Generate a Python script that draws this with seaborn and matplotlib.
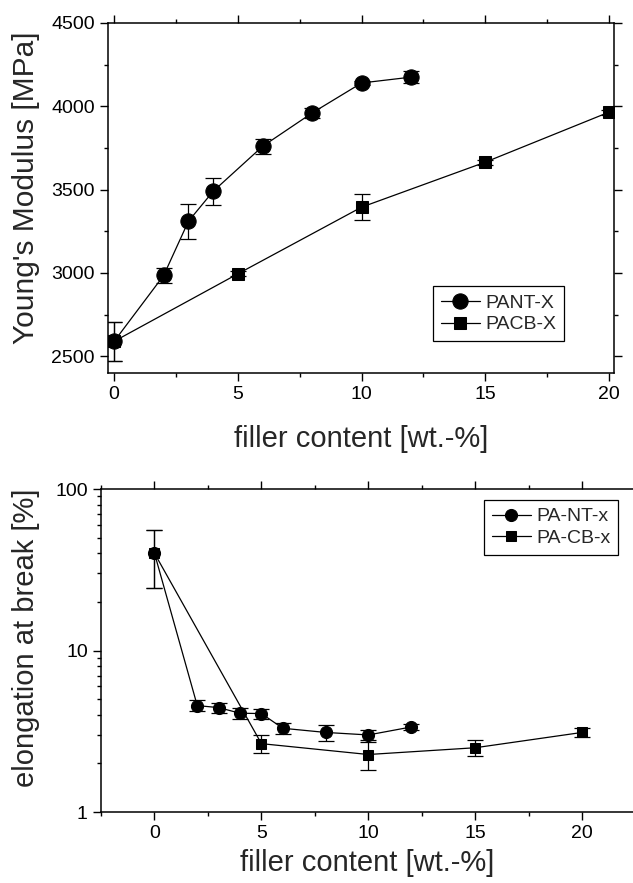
import matplotlib
matplotlib.use("Agg")
import matplotlib.pyplot as plt
import numpy as np
import pandas as pd
import seaborn as sns
from matplotlib.ticker import (MultipleLocator, FixedLocator, LogLocator,
                               NullFormatter)

# ---------------------------------------------------------------------------
# Data
# ---------------------------------------------------------------------------
# Young's modulus [MPa]
nt_x = [0, 2, 3, 4, 6, 8, 10, 12]
nt_E = [2590, 2985, 3310, 3490, 3760, 3960, 4140, 4175]
nt_E_err = [116, 44, 106, 81, 44, 28, 12, 38]

cb_x = [0, 5, 10, 15, 20]
cb_E = [2590, 2995, 3395, 3665, 3965]
cb_E_err = [116, 15, 78, 15, 15]

# elongation at break [%]
nt_x2 = [0, 2, 3, 4, 5, 6, 8, 10, 12]
nt_eps = [40, 4.56, 4.43, 4.09, 4.07, 3.30, 3.11, 3.00, 3.36]
nt_eps_err = [15.7, 0.35, 0.30, 0.31, 0.30, 0.25, 0.37, 0.22, 0.15]

cb_x2 = [0, 5, 10, 15, 20]
cb_eps = [40, 2.65, 2.27, 2.50, 3.11]
cb_eps_err = [15.7, 0.34, 0.46, 0.28, 0.19]

x_major = [0, 5, 10, 15, 20]
labels_top = ["PANT-X", "PACB-X"]
labels_bot = ["PA-NT-x", "PA-CB-x"]

# ---------------------------------------------------------------------------
# Style
# ---------------------------------------------------------------------------
sns.set_style("ticks")
plt.rcParams["font.family"] = ["Liberation Sans", "DejaVu Sans"]
plt.rcParams["axes.linewidth"] = 1.1

LW = 0.9
TICK_FS = 14
LEG_FS = 14
LABEL_FS = 21

fig = plt.figure(figsize=(6.33, 8.83), dpi=100)
ax1 = fig.add_axes([0.1706, 0.5776, 0.7994, 0.3964])
ax2 = fig.add_axes([0.1596, 0.0804, 0.929, 0.3658])


def draw(ax, x, y, err, marker, ms, label):
    df = pd.DataFrame({"x": x, "y": y})
    ax.errorbar(x, y, yerr=err, fmt="none", ecolor="black",
                elinewidth=LW, capsize=6, capthick=LW, zorder=2)
    sns.lineplot(data=df, x="x", y="y", ax=ax, color="black", lw=LW,
                 marker=marker, markersize=ms, markeredgecolor="black",
                 markerfacecolor="black", label=label, zorder=3)


def style_axes(ax):
    ax.tick_params(which="both", direction="out", top=True, right=True,
                   labelsize=TICK_FS, width=1.0, colors="black", pad=4)
    ax.tick_params(which="major", length=5.5)
    ax.tick_params(which="minor", length=3)
    for s in ax.spines.values():
        s.set_visible(True)
        s.set_color("black")


def make_legend(ax, loc, anchor):
    leg = ax.legend(loc=loc, bbox_to_anchor=anchor,
                    fontsize=LEG_FS, frameon=True, fancybox=False,
                    edgecolor="black", framealpha=1, handlelength=2.0,
                    handletextpad=0.3, borderpad=0.4, labelspacing=0.2,
                    borderaxespad=0)
    leg.get_frame().set_linewidth(0.9)
    return leg


# ---------------------------------------------------------------------------
# Top: Young's modulus
# ---------------------------------------------------------------------------
draw(ax1, nt_x, nt_E, nt_E_err, "o", 11, labels_top[0])
draw(ax1, cb_x, cb_E, cb_E_err, "s", 8.5, labels_top[1])
ax1.set_xlim(-0.25, 20.2)
ax1.set_ylim(2400, 4500)
ax1.xaxis.set_major_locator(FixedLocator(x_major))
ax1.xaxis.set_minor_locator(MultipleLocator(2.5))
ax1.yaxis.set_major_locator(MultipleLocator(500))
ax1.yaxis.set_minor_locator(MultipleLocator(250))
style_axes(ax1)
ax1.set_xlabel("filler content [wt.-%]", fontsize=LABEL_FS)
ax1.set_ylabel("Young's Modulus [MPa]", fontsize=LABEL_FS + 0.5)
ax1.xaxis.set_label_coords(0.5, -0.15)
ax1.yaxis.set_label_coords(-0.134, 0.53)
make_legend(ax1, "lower left", (0.642, 0.091))

# ---------------------------------------------------------------------------
# Bottom: elongation at break (log scale)
# ---------------------------------------------------------------------------
draw(ax2, nt_x2, nt_eps, nt_eps_err, "o", 8.7, labels_bot[0])
draw(ax2, cb_x2, cb_eps, cb_eps_err, "s", 6.5, labels_bot[1])
ax2.set_yscale("log")
ax2.set_xlim(-2.5, 25)
ax2.set_ylim(1, 100)
ax2.xaxis.set_major_locator(FixedLocator(x_major))
ax2.xaxis.set_minor_locator(MultipleLocator(2.5))
ax2.yaxis.set_major_locator(LogLocator(base=10))
ax2.yaxis.set_minor_locator(LogLocator(base=10, subs=np.arange(2, 10)))
ax2.yaxis.set_minor_formatter(NullFormatter())
ax2.yaxis.set_major_formatter(plt.FuncFormatter(lambda v, p: f"{v:g}"))
style_axes(ax2)
ax2.set_xlabel("filler content [wt.-%]", fontsize=LABEL_FS)
ax2.set_ylabel("elongation at break [%]", fontsize=LABEL_FS)
ax2.xaxis.set_label_coords(0.452, -0.115)
ax2.yaxis.set_label_coords(-0.104, 0.54)
make_legend(ax2, "upper left", (0.651, 0.966))

fig.savefig("out.png", dpi=100)
plt.close(fig)
